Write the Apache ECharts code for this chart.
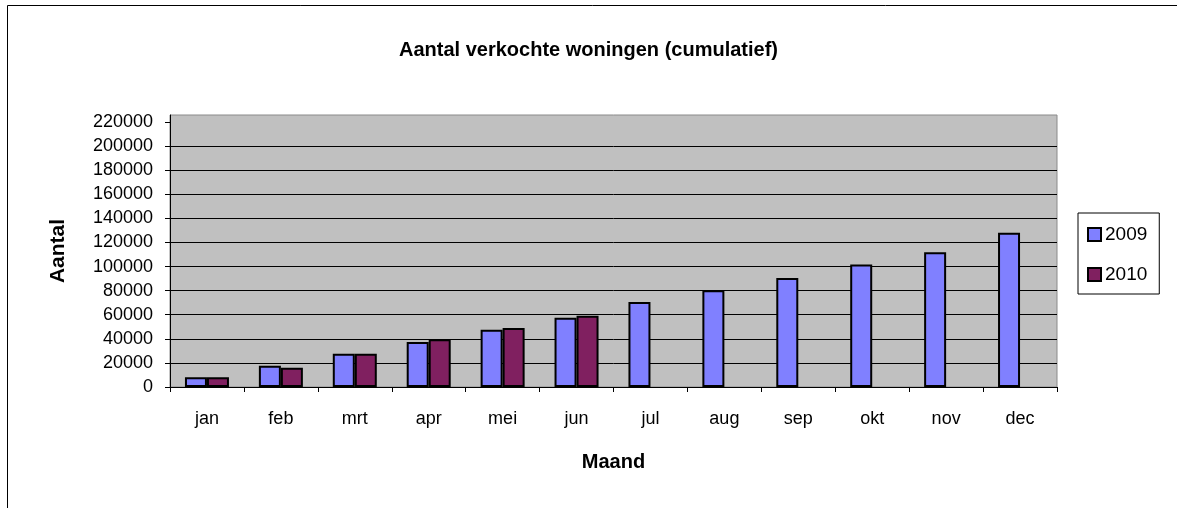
<!DOCTYPE html>
<html>
<head>
<meta charset="utf-8">
<script src="https://cdn.jsdelivr.net/npm/echarts@6/dist/echarts.min.js"></script>
<style>
  html, body { margin: 0; padding: 0; background: #fff; }
  #chart { width: 1177px; height: 508px; }
</style>
</head>
<body>
<div id="chart"></div>
<script>
  var months = ['jan', 'feb', 'mrt', 'apr', 'mei', 'jun', 'jul', 'aug', 'sep', 'okt', 'nov', 'dec'];
  var sales2009 = [8000, 17700, 27600, 37400, 47600, 57500, 70600, 80300, 90500, 101600, 111800, 128100];
  var sales2010 = [8000, 16000, 27600, 39600, 49000, 59200, null, null, null, null, null, null];
  var yTicks = [0, 20000, 40000, 60000, 80000, 100000, 120000, 140000, 160000, 180000, 200000, 220000];

  var font = "'Liberation Sans', Arial, sans-serif";
  var myChart = echarts.init(document.getElementById('chart'));

  var option = {
    animation: false,
    title: {
      text: 'Aantal verkochte woningen (cumulatief)',
      left: 'center',
      top: 35,
      textStyle: { fontFamily: font, fontSize: 20, fontWeight: 'bold', color: '#000' }
    },
    graphic: [{
      type: 'rect',
      z: -10,
      shape: { x: 7.5, y: 5.5, width: 1300, height: 700 },
      style: { fill: 'none', stroke: '#000', lineWidth: 1 }
    }],
    legend: {
      orient: 'vertical',
      left: 1078,
      top: 213,
      padding: [12, 12, 10, 9],
      itemGap: 21,
      itemWidth: 13,
      itemHeight: 13,
      icon: 'rect',
      borderColor: '#000',
      borderWidth: 1,
      textStyle: { fontFamily: font, fontSize: 19, color: '#000', padding: [0, 0, 0, -1] },
      data: ['2009', '2010']
    },
    grid: {
      left: 170,
      right: 120,
      top: 115,
      bottom: 121,
      show: true,
      backgroundColor: '#c0c0c0',
      borderColor: '#8a8a8a',
      borderWidth: 1
    },
    xAxis: {
      type: 'category',
      data: months,
      name: 'Maand',
      nameLocation: 'middle',
      nameGap: 65,
      nameTextStyle: { fontFamily: font, fontSize: 20, fontWeight: 'bold', color: '#000' },
      axisLine: { lineStyle: { color: '#000', width: 1 } },
      axisTick: { show: true, length: 5, lineStyle: { color: '#000' } },
      axisLabel: { fontFamily: font, fontSize: 18, color: '#000', margin: 23 },
      splitLine: { show: false }
    },
    yAxis: {
      type: 'value',
      min: 0,
      max: 225800,
      interval: 20000,
      name: 'Aantal',
      nameLocation: 'middle',
      nameRotate: 90,
      nameGap: 101,
      nameTextStyle: { fontFamily: font, fontSize: 21, fontWeight: 'bold', color: '#000' },
      axisLine: { show: true, lineStyle: { color: '#000', width: 1 } },
      axisTick: { show: true, length: 5, lineStyle: { color: '#000' }, customValues: yTicks },
      axisLabel: {
        fontFamily: font, fontSize: 18, color: '#000', margin: 17, customValues: yTicks,
        formatter: function(v) { return String(v); }
      },
      splitLine: { show: true, showMaxLine: false, lineStyle: { color: '#000', width: 1 } }
    },
    series: [{
      name: '2009',
      type: 'bar',
      barWidth: 22,
      barGap: '0%',
      data: sales2009,
      itemStyle: { color: '#8080ff', borderColor: '#000', borderWidth: 2 }
    }, {
      name: '2010',
      type: 'bar',
      barWidth: 22,
      data: sales2010,
      itemStyle: { color: '#802060', borderColor: '#000', borderWidth: 2 }
    }]
  };
  myChart.setOption(option);
</script>
</body>
</html>
